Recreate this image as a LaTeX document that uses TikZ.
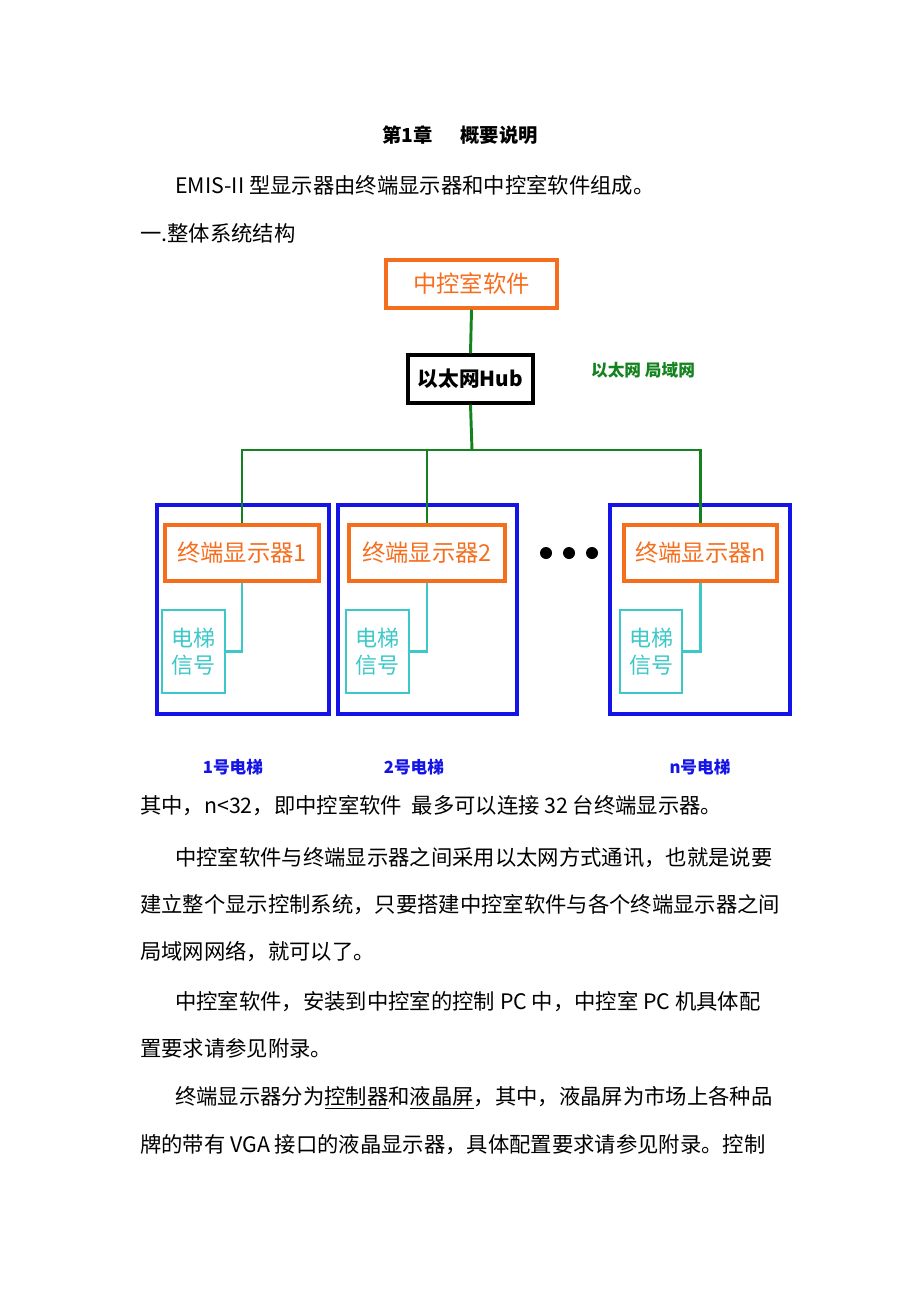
\documentclass[tikz,border=0pt]{standalone}
\usepackage{fontspec}
\setmainfont{Noto Sans CJK SC}
\definecolor{org}{RGB}{245,110,30}
\definecolor{grn}{RGB}{20,130,30}
\definecolor{blu}{RGB}{20,20,230}
\definecolor{cya}{RGB}{60,200,200}
\tikzset{
 obox/.style={draw=org,line width=2.6pt,text=org,font=\fontsize{17.5}{17.5}\selectfont},
 bbox/.style={draw=blu,line width=2.4pt},
 cbox/.style={draw=cya,line width=1.8pt,text=cya,font=\fontsize{16.5}{20}\selectfont,align=left},
 gl/.style={draw=grn,line width=2.2pt},
 cl/.style={draw=cya,line width=1.6pt},
 para/.style={anchor=west,inner sep=0,font=\fontsize{16}{16}\selectfont},
 lab/.style={text=blu,font=\bfseries\fontsize{12.5}{12.5}\selectfont}
}
\begin{document}
\begin{tikzpicture}[x=0.75pt,y=-0.75pt]
\useasboundingbox (0,0) rectangle (920,1302);
\node[font=\bfseries\fontsize{14.5}{14.5}\selectfont] (title) at (460,135) {第1章\quad\ \ 概要说明};
\node[para] (p0) at (175,185) {EMIS-II 型显示器由终端显示器和中控室软件组成。};
\node[para] (p1) at (140,233) {一.整体系统结构};
\node[obox,minimum width=171*0.75pt,minimum height=48*0.75pt] (soft) at (471.5,284) {中控室软件};
\node[draw,line width=2.4pt,font=\bfseries\fontsize{15.5}{15.5}\selectfont,minimum width=125*0.75pt,minimum height=48*0.75pt] (hub) at (470.5,379) {以太网Hub};
\node[text=grn,font=\bfseries\fontsize{12.5}{12.5}\selectfont] (lan) at (643,370) {以太网 局域网};
\draw[gl] (soft.south) -- (hub.north);
\coordinate (j) at (472,450);
\node[bbox,minimum width=172*0.75pt,minimum height=209*0.75pt] (b1) at (243,609.5) {};
\node[bbox,minimum width=179*0.75pt,minimum height=209*0.75pt] (b2) at (427.5,609.5) {};
\node[bbox,minimum width=180*0.75pt,minimum height=209*0.75pt] (b3) at (700,609.5) {};
\node[obox,minimum width=154*0.75pt,minimum height=56*0.75pt] (t1) at (242,553) {终端显示器1};
\node[obox,minimum width=156*0.75pt,minimum height=56*0.75pt] (t2) at (427,553) {终端显示器2};
\node[obox,minimum width=153*0.75pt,minimum height=56*0.75pt] (t3) at (700.5,553) {终端显示器n};
\draw[gl] (hub.south) -- (j);
\draw[gl] (t1.north) |- (j) -| (t3.north);
\draw[gl] (t2.north) -- (t2.north|-j);
\node[cbox,minimum width=63*0.75pt,minimum height=83*0.75pt] (c1) at (193.5,651.5) {电梯\\信号};
\node[cbox,minimum width=63*0.75pt,minimum height=83*0.75pt] (c2) at (377.5,651.5) {电梯\\信号};
\node[cbox,minimum width=62*0.75pt,minimum height=83*0.75pt] (c3) at (651,651.5) {电梯\\信号};
\draw[cl] (t1.south) |- (c1.east);
\draw[cl] (t2.south) |- (c2.east);
\draw[cl] (t3.south) |- (c3.east);
\foreach \x/\n in {546/d1,569/d2,592/d3} \fill (\x,553) circle (6) coordinate (\n);
\node[lab] (l1) at (233,767) {1号电梯};
\node[lab] (l2) at (414,767) {2号电梯};
\node[lab] (l3) at (700,767) {n号电梯};
\node[para] (q1) at (140,806) {其中，n<32，即中控室软件\ \ 最多可以连接 32 台终端显示器。};
\node[para] (q2) at (175,858) {中控室软件与终端显示器之间采用以太网方式通讯，也就是说要};
\node[para] (q3) at (140,905) {建立整个显示控制系统，只要搭建中控室软件与各个终端显示器之间};
\node[para] (q4) at (140,952) {局域网网络，就可以了。};
\node[para] (q5) at (175,1002) {中控室软件，安装到中控室的控制 PC 中，中控室 PC 机具体配};
\node[para] (q6) at (140,1048) {置要求请参见附录。};
\node[para] (q7) at (175,1098) {终端显示器分为\underline{控制器}和\underline{液晶屏}，其中，液晶屏为市场上各种品};
\node[para] (q8) at (140,1145) {牌的带有 VGA 接口的液晶显示器，具体配置要求请参见附录。控制};
\end{tikzpicture}
\end{document}
